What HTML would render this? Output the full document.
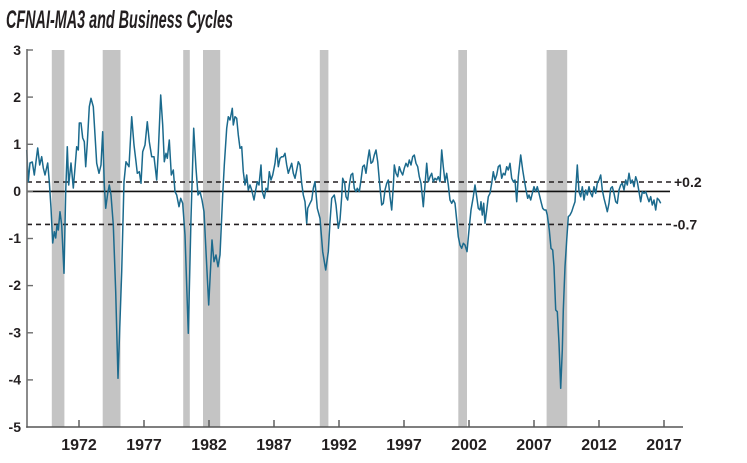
<!DOCTYPE html>
<html>
<head>
<meta charset="utf-8">
<style>
  html, body { margin: 0; padding: 0; background: #ffffff; }
  svg { display: block; }
  .tick { font-family: "Liberation Sans", Arial, sans-serif; font-weight: bold; fill: #231f20; }
</style>
</head>
<body>
<svg width="747" height="463" viewBox="0 0 747 463" xmlns="http://www.w3.org/2000/svg">
  <rect width="747" height="463" fill="#ffffff"/>

  <!-- Title -->
  <text x="6" y="28" font-family="Liberation Sans, Arial, sans-serif" font-weight="bold" font-style="italic" font-size="25" fill="#231f20" textLength="227" lengthAdjust="spacingAndGlyphs">CFNAI-MA3 and Business Cycles</text>

  <!-- Recession bands -->
  <g fill="#c4c4c4">
    <rect x="51.8" y="50" width="12.6" height="377"/>
    <rect x="102.7" y="50" width="17.8" height="377"/>
    <rect x="183.2" y="50" width="6.6" height="377"/>
    <rect x="203" y="50" width="17.2" height="377"/>
    <rect x="319.8" y="50" width="8.6" height="377"/>
    <rect x="458.3" y="50" width="8.7" height="377"/>
    <rect x="546.6" y="50" width="20.6" height="377"/>
  </g>

  <!-- Reference lines -->
  <line x1="27" y1="182" x2="671" y2="182" stroke="#231f20" stroke-width="1.6" stroke-dasharray="5,4"/>
  <line x1="27" y1="224.4" x2="671" y2="224.4" stroke="#231f20" stroke-width="1.6" stroke-dasharray="5,4"/>
  <line x1="27" y1="191.4" x2="670" y2="191.4" stroke="#111111" stroke-width="1.6"/>

  <!-- Series -->
  <polyline fill="none" stroke="#1b6a8d" stroke-width="1.5" stroke-linejoin="round" points="
26.7,150 28.3,181.7 30,163 32.3,162 34.3,175 37.7,148 39.7,165 41.7,156.7 43.3,168 45,175 47.7,163 49.3,181.7 51,208 52.7,243 54.3,231.7 55.7,238 57,225 58.3,230 60,211.7 61.7,225 64,273.3 65.7,191.7 67.3,146.7 68.7,185 71,163 73.3,188 75,168 76.7,146.7 78.3,150 79.3,123 81,123 82.7,138 84.3,141.7 85.7,166.7 87.3,143.3 89.3,106.7 91,98.3 93.3,106.7 95,135 96.7,163.3 99,173.3 101,165 102.7,131.7 104.3,185 105.7,208.3 107.7,193.3 109.3,185 111,195 113.3,225 115.7,291.7 118,378.3 121.7,271.7 124,181.7 126,161.7 129,166.7 131.7,116.7
134,145 136,161.7 137.3,173.3 139.3,171.7 141,183.3 142.7,151.7 145,145 147.3,121.7 149.3,141.7 151.7,156.7 154,156.7 156.7,180 158.3,151.7 160.7,95 162.7,125 164.3,161.7 166,153.3 167.3,158.3 169.3,140 171.3,175 173.3,170 175,191.7 176.7,195 179,206.7 180.7,198.3 182.7,203.3 185,235 188.3,333.3 191,218.3 193.7,128.3 196,168.3 198,195 200,191.7 202,200 204,211.7 208.7,305 212,240 214,261.7 216,255 218,266.7 220,255 222.7,195 224.3,165
226.7,128.3 228.3,116.7 230,120 231,115 232.3,108.3 233.3,125 235,116.7 236.7,118.3 238.3,135 240,148.3 241.7,146.7 243.3,171.7 245,185 246.7,175 248.3,190 250,185 251.7,190 254,200 255.7,190 257.3,181.7 259,185 261,165 262.3,191.7 264.3,198.3 266,188.3 267.7,190 269.3,171.7 271,180 272.7,175 275,163.3 276.7,148.3 278.3,166.7 280,158.3 281.7,156.7 283.3,156.7 285,153.3 286.7,165 288.3,173.3 290,168.3 291.7,163.3 293.3,173.3 295,178.3 296.7,170 298.3,161.7 300,165 301.7,183.3 303.3,195 305,201.7 306.7,223.3 307.7,208.3 310,203.3 311.7,200 313.3,188.3 315,181.7 317.3,208.3 320,218.3 322.7,251.7 325.7,270 328.3,251.7 330,221.7 331.7,198.3 334.3,195 336,205 338.3,228.3
340,220 341.7,196.7 342.7,178.3 344.7,183.3 346,196.7 347.7,200 349.3,185 351,175 352.7,173.3 354.3,188.3 356,191.7 357.3,188.3 359.3,191.7 361,180 362.7,166.7 364.3,165 366,173.3 367.7,160 369.3,150 371,163.3 372.7,161.7 374.3,155 376,150 377.7,161.7 379.3,180 381.7,205 383.3,203.3 385,190 386.7,183.3 388.3,180 390,196.7 391.7,210 393.3,186.7 394.3,165 396,173.3 397.7,176.7 399.3,166.7 401,171.7 402.7,175 404.3,168.3 406,163.3 407.7,166.7 409.3,160 411,165 412.7,156.7 414.3,155 416,163.3 417.7,166.7 419.3,176.7 421,183.3 423.3,206.7 425,185 426.7,163.3 428.3,181.7 430,176.7 431.7,173.3 433.3,181.7 435,178.3 436.7,180 438.3,176.7 440,181.7 441.7,150 443.3,166.7 445,181.7 446.7,173.3 448.3,185 450,200 451.7,203.3 453.3,200
455,203.3 456.7,220 458.3,236.7 460,245 461.7,248.3 463.3,243.3 465,245 467,251.7 469,230 471,210 473.3,196.7 475,185 476.7,196.7 478.3,208.3 480,210 481,201.7 482.3,215 483.7,203.3 485,223.3 486.7,210 488.3,196.7 490,193.3 491.7,183.3 493.3,171.7 495,180 496.7,175 498.3,166.7 500,165 501.7,178.3 503.3,173.3 505,175 506.7,166.7 508.3,170 510,163.3 511.7,178.3 513.3,181.7 515,180 516.7,201.7 518.3,176.7 520.7,155 522.7,170 524.3,180 526,190 527.7,198.3 529,195 530.7,200 532.3,193.3 534,186.7 535.7,191.7 537.3,186.7 539,193.3 541,201.7 542.7,208.3 544.3,210 546,210
547.3,215 549.3,230 551,248.3 552.7,250 554,266.7 555.7,310 557.3,311.7 559,343.3 560.7,388.3 562.3,350 563.3,310 565,266.7 566.7,240 568.3,216.7 570,215 571.7,211.7 573.3,206.7 575,201.7
577.3,165 579,191.7 580.7,196.7 582.3,186.7 584,200 585.7,190 587.3,195 589,186.7 590.7,193.3 592.3,196.7 594,186.7 595.7,193.3 597.3,183.3 599,180 600.7,175 602.3,190 604,198.3 605.7,205 607.3,211.7 609,203.3 610.7,188.3 612.3,186.7 614,193.3 615.7,201.7 617.3,203.3 619,190 620.7,185 622.3,183.3 624,190 625.7,180 627.3,185 629,173.3 630.7,183.3 632.3,180 634,186.7 635.7,176.7 637.3,181.7 639,191.7 640.7,201.7 642.3,191.7 644,193.3 645.7,191.7 647.3,196.7 649,201.7 650.7,196.7 652.3,205 654,200 655.7,210 657.3,198.3 659,200 660.7,203.3"/>

  <!-- Axes -->
  <line x1="27" y1="49" x2="27" y2="427.8" stroke="#6e6e6e" stroke-width="1.6"/>
  <line x1="26.2" y1="427" x2="683" y2="427" stroke="#555555" stroke-width="1.6"/>

  <!-- Y ticks -->
  <g stroke="#6e6e6e" stroke-width="1.4">
    <line x1="27" y1="50" x2="33" y2="50"/>
    <line x1="27" y1="97.1" x2="33" y2="97.1"/>
    <line x1="27" y1="144.3" x2="33" y2="144.3"/>
    <line x1="27" y1="191.4" x2="33" y2="191.4"/>
    <line x1="27" y1="238.5" x2="33" y2="238.5"/>
    <line x1="27" y1="285.6" x2="33" y2="285.6"/>
    <line x1="27" y1="332.8" x2="33" y2="332.8"/>
    <line x1="27" y1="379.9" x2="33" y2="379.9"/>
  </g>
  <g class="tick" font-size="14" text-anchor="end">
    <text x="21" y="55">3</text>
    <text x="21" y="102">2</text>
    <text x="21" y="149">1</text>
    <text x="21" y="196">0</text>
    <text x="21" y="243">-1</text>
    <text x="21" y="290">-2</text>
    <text x="21" y="337.5">-3</text>
    <text x="21" y="384.5">-4</text>
    <text x="21" y="432">-5</text>
  </g>

  <!-- X ticks -->
  <g stroke="#555555" stroke-width="1.4">
    <line x1="79" y1="427" x2="79" y2="420"/>
    <line x1="144" y1="427" x2="144" y2="420"/>
    <line x1="209" y1="427" x2="209" y2="420"/>
    <line x1="274" y1="427" x2="274" y2="420"/>
    <line x1="339" y1="427" x2="339" y2="420"/>
    <line x1="404" y1="427" x2="404" y2="420"/>
    <line x1="469" y1="427" x2="469" y2="420"/>
    <line x1="534" y1="427" x2="534" y2="420"/>
    <line x1="599" y1="427" x2="599" y2="420"/>
    <line x1="664" y1="427" x2="664" y2="420"/>
  </g>
  <g class="tick" font-size="16" text-anchor="middle">
    <text x="79" y="450">1972</text>
    <text x="144" y="450">1977</text>
    <text x="209" y="450">1982</text>
    <text x="274" y="450">1987</text>
    <text x="339" y="450">1992</text>
    <text x="404" y="450">1997</text>
    <text x="469" y="450">2002</text>
    <text x="534" y="450">2007</text>
    <text x="599" y="450">2012</text>
    <text x="664" y="450">2017</text>
  </g>

  <!-- Right labels -->
  <g class="tick" font-size="14">
    <text x="674" y="187">+0.2</text>
    <text x="673" y="229.5">-0.7</text>
  </g>
</svg>
</body>
</html>
